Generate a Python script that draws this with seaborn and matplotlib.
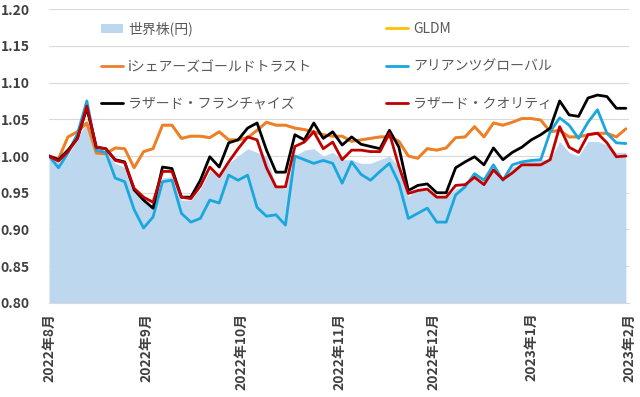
import matplotlib
matplotlib.use('Agg')
import matplotlib.pyplot as plt
import seaborn as sns
import pandas as pd

# 3日ごとの基準日 (2022/8/1 -> 2023/1/31)
dates = pd.date_range('2022-08-01', periods=62, freq='3D')

world = [1.000, 0.990, 1.000, 1.025, 1.045, 1.010, 1.005, 0.990, 0.985, 0.955,
         0.940, 0.930, 0.970, 0.972, 0.940, 0.940, 0.955, 0.980, 0.972, 0.990,
         1.000, 1.010, 1.005, 1.000, 0.960, 0.955, 1.000, 1.008, 1.010, 1.000,
         1.005, 0.995, 0.995, 0.990, 0.990, 0.995, 1.000, 0.985, 0.945, 0.955,
         0.955, 0.945, 0.945, 0.955, 0.960, 0.975, 0.965, 0.985, 0.968, 0.985,
         0.990, 0.995, 0.995, 0.995, 1.020, 1.005, 1.000, 1.020, 1.020, 1.015,
         1.005, 1.005]
gldm = [1.000, 0.996, 1.026, 1.033, 1.045, 1.004, 1.003, 1.011, 1.010, 0.984,
        1.006, 1.010, 1.042, 1.042, 1.024, 1.027, 1.027, 1.025, 1.033, 1.022,
        1.022, 1.025, 1.035, 1.046, 1.042, 1.042, 1.038, 1.036, 1.033, 1.029,
        1.027, 1.027, 1.020, 1.022, 1.024, 1.026, 1.026, 1.020, 1.000, 0.997,
        1.010, 1.008, 1.011, 1.025, 1.026, 1.040, 1.026, 1.045, 1.042, 1.046,
        1.051, 1.051, 1.049, 1.033, 1.035, 1.026, 1.026, 1.029, 1.031, 1.031,
        1.026, 1.037]
ishares = [1.000, 0.996, 1.026, 1.033, 1.045, 1.004, 1.003, 1.011, 1.010, 0.984,
           1.006, 1.010, 1.042, 1.042, 1.024, 1.027, 1.027, 1.025, 1.033, 1.022,
           1.022, 1.025, 1.035, 1.046, 1.042, 1.042, 1.038, 1.036, 1.033, 1.029,
           1.027, 1.027, 1.020, 1.022, 1.024, 1.026, 1.026, 1.020, 1.000, 0.997,
           1.010, 1.008, 1.011, 1.025, 1.026, 1.040, 1.026, 1.045, 1.042, 1.046,
           1.051, 1.051, 1.049, 1.033, 1.035, 1.026, 1.026, 1.029, 1.031, 1.031,
           1.026, 1.037]
allianz = [1.000, 0.984, 1.004, 1.030, 1.075, 1.008, 1.005, 0.970, 0.965, 0.927,
           0.902, 0.917, 0.965, 0.967, 0.922, 0.910, 0.915, 0.940, 0.936, 0.974,
           0.967, 0.974, 0.930, 0.918, 0.920, 0.906, 1.000, 0.995, 0.990, 0.994,
           0.990, 0.963, 0.992, 0.975, 0.967, 0.979, 0.990, 0.963, 0.915, 0.922,
           0.929, 0.910, 0.910, 0.947, 0.958, 0.976, 0.967, 0.988, 0.967, 0.988,
           0.992, 0.994, 0.995, 1.033, 1.052, 1.042, 1.024, 1.046, 1.063, 1.031,
           1.018, 1.017]
franchise = [1.000, 0.995, 1.008, 1.024, 1.065, 1.012, 1.010, 0.995, 0.992, 0.954,
             0.940, 0.929, 0.985, 0.983, 0.944, 0.944, 0.967, 0.999, 0.985, 1.018,
             1.022, 1.038, 1.045, 1.008, 0.978, 0.978, 1.029, 1.022, 1.045, 1.024,
             1.033, 1.015, 1.026, 1.016, 1.013, 1.010, 1.035, 1.012, 0.953, 0.960,
             0.962, 0.950, 0.950, 0.984, 0.992, 0.999, 0.988, 1.011, 0.995, 1.005,
             1.012, 1.022, 1.029, 1.038, 1.075, 1.056, 1.054, 1.079, 1.083, 1.081,
             1.065, 1.065]
quality = [1.000, 0.993, 1.006, 1.024, 1.068, 1.012, 1.010, 0.994, 0.991, 0.956,
           0.944, 0.937, 0.979, 0.979, 0.944, 0.942, 0.959, 0.985, 0.972, 0.992,
           1.010, 1.026, 1.022, 0.984, 0.958, 0.958, 1.013, 1.019, 1.033, 1.010,
           1.019, 0.995, 1.008, 1.008, 1.006, 1.006, 1.031, 0.986, 0.949, 0.953,
           0.955, 0.944, 0.944, 0.960, 0.961, 0.971, 0.961, 0.981, 0.968, 0.977,
           0.988, 0.988, 0.988, 0.995, 1.040, 1.012, 1.005, 1.029, 1.031, 1.018,
           0.999, 1.000]

month_ticks = pd.date_range('2022-08-01', '2023-02-01', freq='MS')
month_labels = ['2022年8月', '2022年9月', '2022年10月', '2022年11月',
                '2022年12月', '2023年1月', '2023年2月']
y_ticks = [0.80, 0.85, 0.90, 0.95, 1.00, 1.05, 1.10, 1.15, 1.20]

sns.set_style('white')
plt.rcParams['font.family'] = ['Noto Sans CJK JP', 'DejaVu Sans']

fig = plt.figure(figsize=(6.4, 3.97), dpi=100)
ax = fig.add_axes([0.0766, 0.237, 0.9062, 0.74])

ax.fill_between(dates, 0.8, world, color='#BDD7EE', linewidth=0, label='世界株(円)')
lw = 2.0
sns.lineplot(x=dates, y=gldm, color='#FFC000', linewidth=lw, label='GLDM', ax=ax)
sns.lineplot(x=dates, y=ishares, color='#ED7D31', linewidth=lw, label='iシェアーズゴールドトラスト', ax=ax)
sns.lineplot(x=dates, y=allianz, color='#1AA7DE', linewidth=lw, label='アリアンツグローバル', ax=ax)
sns.lineplot(x=dates, y=franchise, color='#000000', linewidth=lw, label='ラザード・フランチャイズ', ax=ax)
sns.lineplot(x=dates, y=quality, color='#C00000', linewidth=lw, label='ラザード・クオリティ', ax=ax)

ax.set_ylim(0.8, 1.2)
ax.set_xlim(month_ticks[0], month_ticks[-1])
ax.set_yticks(y_ticks)
ax.set_yticklabels([f'{v:.2f}' for v in y_ticks], fontweight='bold', fontsize=10, color='#404040')
ax.set_xticks(month_ticks)
ax.set_xticklabels(month_labels, rotation=90, fontweight='bold', fontsize=10, color='#404040')
ax.grid(axis='y', color='#D9D9D9', linewidth=0.8)
ax.set_axisbelow(True)
for s in ['top', 'right', 'left']:
    ax.spines[s].set_visible(False)
ax.spines['bottom'].set_color('#D9D9D9')
ax.tick_params(axis='x', length=4, color='#D9D9D9', pad=3)
ax.tick_params(axis='y', length=0, pad=14)
ax.set_xlabel('')
ax.set_ylabel('')

h, l = ax.get_legend_handles_labels()
order = [l.index(n) for n in ['世界株(円)', 'iシェアーズゴールドトラスト', 'ラザード・フランチャイズ',
                              'GLDM', 'アリアンツグローバル', 'ラザード・クオリティ']]
leg = ax.legend([h[i] for i in order], [l[i] for i in order], ncol=2, loc='upper left',
                bbox_to_anchor=(0.09, 0.958), frameon=False, fontsize=10,
                handlelength=1.6, handletextpad=0.35, labelspacing=1.68,
                columnspacing=5.3, borderpad=0, borderaxespad=0)
for t in leg.get_texts():
    t.set_color('#595959')

fig.savefig('out.png', dpi=100)
